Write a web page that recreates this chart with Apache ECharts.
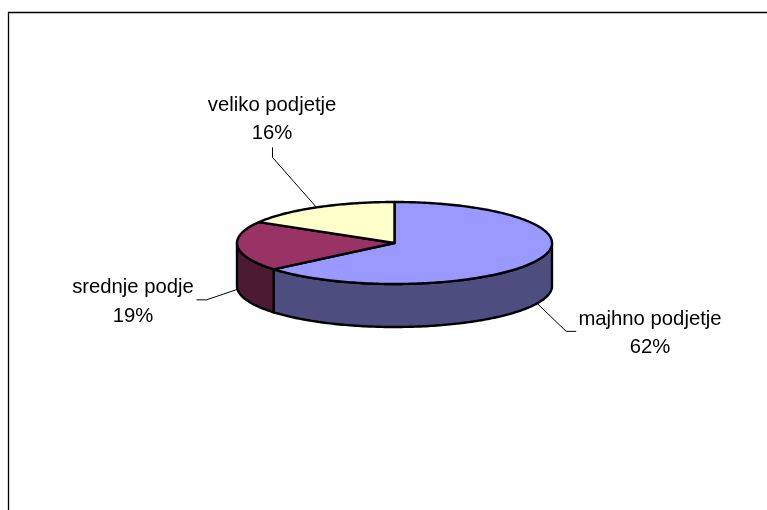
<!DOCTYPE html>
<html><head><meta charset="utf-8">
<style>html,body{margin:0;padding:0;background:#fff}#c{width:767px;height:510px}</style>
<script src="https://cdn.jsdelivr.net/npm/echarts@6/dist/echarts.min.js"></script>
</head><body><div id="c"></div>
<script>
var categories = ['majhno podjetje', 'srednje podje', 'veliko podjetje'];
var values = [62, 19, 16];
var topColors = ['#9999FF', '#993366', '#FFFFCC'];
var sideColors = ['#4D4D80', '#4D1A33', '#808066'];

var cx = 394.5, cy = 243, rx = 157.5, ry = 41, depth = 43;
// leader elbow & label position, relative to the slice's rim anchor
var leaders = [
  {elbow: [29, 28], end: [39, 28], label: [112.8, 30]},
  {elbow: [-31, 10.5], end: [-41, 10.5], label: [-104.5, 12.5]},
  {elbow: [-44, -50], end: [-44, -60], label: [-44.4, -88]}
];
var total = values.reduce(function (a, b) { return a + b; }, 0);

function pt(deg, dy) {
  var t = deg * Math.PI / 180;
  return [cx + rx * Math.sin(t), cy - ry * Math.cos(t) + (dy || 0)];
}
function arc(a0, a1, dy) {
  var out = [], n = Math.max(2, Math.ceil(Math.abs(a1 - a0)));
  for (var i = 0; i <= n; i++) out.push(pt(a0 + (a1 - a0) * i / n, dy));
  return out;
}
function startOf(i) {
  var s = 0;
  for (var k = 0; k < i; k++) s += values[k];
  return s / total * 360;
}
var edge = {stroke: '#000', lineWidth: 2.4, lineJoin: 'round'};

function renderItem(params, api) {
  var i = params.dataIndex, v = api.value(1);
  var a0 = startOf(i), a1 = a0 + v / total * 360, mid = (a0 + a1) / 2;
  var children = [];
  var s0 = Math.max(a0, 90), s1 = Math.min(a1, 270);
  if (s1 > s0) {
    children.push({
      type: 'polygon',
      shape: {points: arc(s0, s1, 0).concat(arc(s1, s0, depth))},
      style: Object.assign({fill: sideColors[i]}, edge)
    });
  }
  children.push({
    type: 'polygon',
    shape: {points: [[cx, cy]].concat(arc(a0, a1, 0))},
    style: Object.assign({fill: topColors[i]}, edge)
  });
  var front = mid > 90 && mid < 270;
  var anchor = pt(mid, front ? depth : 0), L = leaders[i];
  children.push({
    type: 'polyline',
    shape: {points: [anchor,
      [anchor[0] + L.elbow[0], anchor[1] + L.elbow[1]],
      [anchor[0] + L.end[0], anchor[1] + L.end[1]]]},
    style: {stroke: '#000', lineWidth: 1, fill: 'none'},
    z2: -1
  });
  children.push({
    type: 'text',
    x: anchor[0] + L.label[0], y: anchor[1] + L.label[1],
    style: {
      text: categories[i] + '\n' + v + '%',
      fontFamily: 'Liberation Sans', fontSize: 20.3, lineHeight: 28.5,
      fill: '#000', align: 'center', verticalAlign: 'middle'
    },
    z2: 6
  });
  return {type: 'group', children: children};
}

var chart = echarts.init(document.getElementById('c'), null, {renderer: 'canvas'});
chart.setOption({
  backgroundColor: '#fff',
  animation: false,
  graphic: [{
    type: 'polyline',
    shape: {points: [[8.5, 510], [8.5, 12.5], [767, 12.5]]},
    style: {stroke: '#000', lineWidth: 1.3, fill: 'none'},
    silent: true
  }],
  series: [{
    type: 'custom',
    coordinateSystem: 'none',
    renderItem: renderItem,
    data: categories.map(function (c, i) { return {name: c, value: [i, values[i]]}; })
  }]
});
</script></body></html>
